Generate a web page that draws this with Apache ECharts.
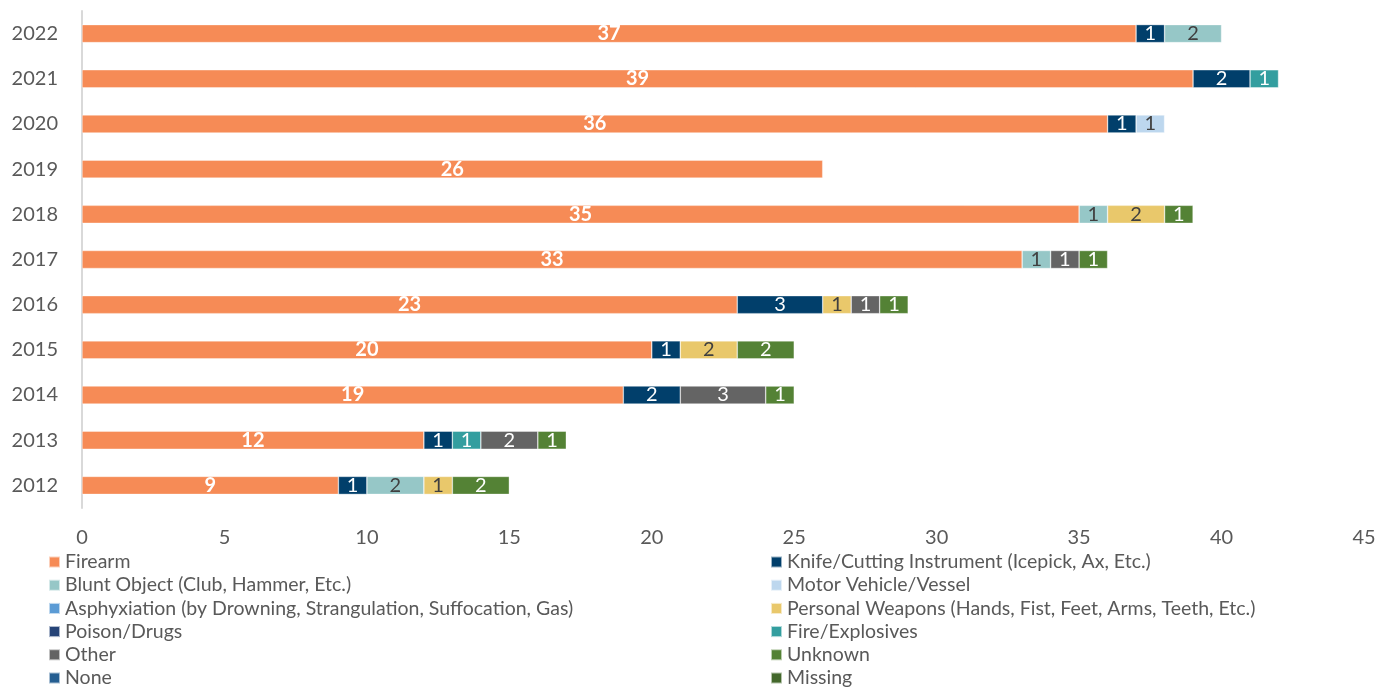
<!DOCTYPE html>
<html>
<head>
<meta charset="utf-8">
<script src="https://cdn.jsdelivr.net/npm/echarts@6/dist/echarts.min.js"></script>
<style>
  html, body { margin: 0; padding: 0; background: #fff; }
  #chart { width: 1395px; height: 687px; }
</style>
</head>
<body>
<div id="chart"></div>
<script>
// Years, bottom to top
const years = ['2012', '2013', '2014', '2015', '2016', '2017', '2018', '2019', '2020', '2021', '2022'];

// Counts per weapon type, one value per year (same order as years)
const firearm      = [9, 12, 19, 20, 23, 33, 35, 26, 36, 39, 37];
const knife        = [1, 1, 2, 1, 3, 0, 0, 0, 1, 2, 1];
const bluntObject  = [2, 0, 0, 0, 0, 1, 1, 0, 0, 0, 2];
const motorVehicle = [0, 0, 0, 0, 0, 0, 0, 0, 1, 0, 0];
const asphyxiation = [0, 0, 0, 0, 0, 0, 0, 0, 0, 0, 0];
const personal     = [1, 0, 0, 2, 1, 0, 2, 0, 0, 0, 0];
const poison       = [0, 0, 0, 0, 0, 0, 0, 0, 0, 0, 0];
const fire         = [0, 1, 0, 0, 0, 0, 0, 0, 0, 1, 0];
const other        = [0, 2, 3, 0, 1, 1, 0, 0, 0, 0, 0];
const unknown      = [2, 1, 1, 2, 1, 1, 1, 0, 0, 0, 0];
const none         = [0, 0, 0, 0, 0, 0, 0, 0, 0, 0, 0];
const missing      = [0, 0, 0, 0, 0, 0, 0, 0, 0, 0, 0];

// X-axis range
const xMin = 0, xMax = 45, xStep = 5;

const FONT = 'Lato, "Open Sans", sans-serif';

const seriesDefs = [
  { name: 'Firearm', data: firearm, color: '#F68B56', label: '#ffffff', bold: true },
  { name: 'Knife/Cutting Instrument (Icepick, Ax, Etc.)', data: knife, color: '#013F6B', label: '#ffffff' },
  { name: 'Blunt Object (Club, Hammer, Etc.)', data: bluntObject, color: '#96C7C7', label: '#404040' },
  { name: 'Motor Vehicle/Vessel', data: motorVehicle, color: '#BDD7EE', label: '#404040' },
  { name: 'Asphyxiation (by Drowning, Strangulation, Suffocation, Gas)', data: asphyxiation, color: '#5B9BD5', label: '#ffffff' },
  { name: 'Personal Weapons (Hands, Fist, Feet, Arms, Teeth, Etc.)', data: personal, color: '#E9C86B', label: '#404040' },
  { name: 'Poison/Drugs', data: poison, color: '#264478', label: '#ffffff' },
  { name: 'Fire/Explosives', data: fire, color: '#339E9F', label: '#ffffff' },
  { name: 'Other', data: other, color: '#646464', label: '#ffffff' },
  { name: 'Unknown', data: unknown, color: '#548235', label: '#ffffff' },
  { name: 'None', data: none, color: '#255E91', label: '#ffffff' },
  { name: 'Missing', data: missing, color: '#43682B', label: '#ffffff' }
];

const series = seriesDefs.map(d => ({
  name: d.name,
  type: 'bar',
  stack: 'total',
  barWidth: 18,
  data: d.data.map(v => (v === 0 ? null : v)),
  itemStyle: { color: d.color, borderColor: 'rgba(255,255,255,0.6)', borderWidth: 0.6 },
  label: {
    show: true,
    position: 'inside',
    color: d.label,
    fontFamily: FONT,
    fontSize: 20,
    fontWeight: d.bold ? 'bold' : 'normal'
  },
  emphasis: { disabled: true }
}));

// Legend split into two columns, alternating items left/right
const leftNames = seriesDefs.filter((_, i) => i % 2 === 0).map(d => d.name);
const rightNames = seriesDefs.filter((_, i) => i % 2 === 1).map(d => d.name);
const legendCommon = {
  orient: 'vertical',
  top: 552,
  height: 140,
  padding: 0,
  icon: 'rect',
  itemWidth: 11,
  itemHeight: 11,
  itemGap: 3.2,
  selectedMode: false,
  textStyle: { color: '#595959', fontSize: 19.5, fontFamily: FONT, lineHeight: 20 }
};

const chart = echarts.init(document.getElementById('chart'));
chart.setOption({
  animation: false,
  backgroundColor: '#ffffff',
  grid: { left: 82, right: 31, top: 11, height: 497, containLabel: false },
  legend: [
    Object.assign({ left: 48, data: leftNames }, legendCommon),
    Object.assign({ left: 770, data: rightNames }, legendCommon)
  ],
  xAxis: {
    type: 'value',
    min: xMin,
    max: xMax,
    interval: xStep,
    axisLine: { show: false },
    axisTick: { show: false },
    splitLine: { show: false },
    axisLabel: { color: '#595959', fontSize: 20, fontFamily: FONT, margin: 20 }
  },
  yAxis: {
    type: 'category',
    data: years,
    axisLine: { show: true, lineStyle: { color: '#D9D9D9', width: 2 } },
    axisTick: { show: false },
    axisLabel: { color: '#595959', fontSize: 20, fontFamily: FONT, margin: 24 }
  },
  series: series
});
</script>
</body>
</html>
